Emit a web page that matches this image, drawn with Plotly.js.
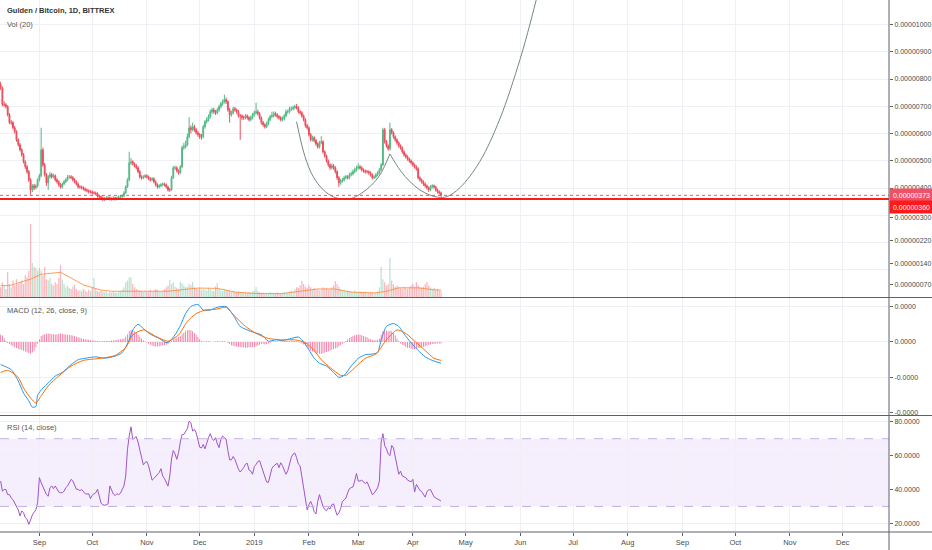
<!DOCTYPE html>
<html><head><meta charset="utf-8">
<script src="https://cdn.plot.ly/plotly-3.0.1.min.js"></script>
<style>html,body{margin:0;padding:0;background:#fff}#chart{width:932px;height:550px}</style>
</head><body><div id="chart"></div>
<script>
// ---- Data (prices in satoshi = 1e-8 BTC), daily candles from 2018-08-10 ----
const startDate = [2018, 7, 10];
const opens = [
780,768,706,706,699,669,640,640,621,607, 577,559,540,522,496,478,460,430,393,408,
401,408,430,445,540,485,449,419,441,449, 441,445,430,423,412,404,415,423,430,441,
441,438,430,423,415,404,404,401,397,393, 390,386,386,382,382,379,371,368,364,360,
360,364,364,360,360,364,360,364,368,368, 371,382,404,430,493,496,489,482,474,460,
441,438,441,445,441,434,430,434,423,412, 404,408,412,415,412,404,393,393,438,474,
474,463,456,478,548,551,559,588,621,614, 625,614,603,596,588,588,625,643,651,662,
680,687,680,676,687,699,709,717,724,717, 687,669,676,691,687,680,665,665,658,658,
665,658,651,658,669,676,680,673,658,640, 632,625,636,651,662,665,673,669,662,658,
651,654,665,680,680,691,691,695,699,695, 680,676,665,651,629,621,596,577,585,574,
562,551,566,570,533,518,500,485,474,482, 474,460,438,419,426,430,438,441,438,449,
452,460,467,474,478,474,467,463,460,460, 456,449,438,441,449,456,467,485,614,570,
555,544,614,603,588,577,566,555,548,533, 522,515,507,500,493,485,478,471,438,430,
423,415,408,401,393,404,408,404,393,386, 382];
const highs = [
790,772,718,712,704,675,650,646,628,612, 582,565,546,528,502,484,466,436,414,415,
414,436,452,621,548,492,455,448,458,456, 452,450,436,428,418,420,430,436,448,448,
447,444,436,428,420,410,409,406,402,398, 395,392,392,388,387,384,376,373,369,366,
370,370,369,366,370,368,369,373,374,377, 388,410,436,533,510,502,494,488,480,466,
447,447,451,450,446,440,440,439,428,417, 414,418,420,420,417,409,400,445,481,482,
480,468,484,556,566,574,600,660,630,640, 632,620,610,602,598,632,650,660,670,688,
695,694,686,694,706,716,725,743,732,722, 694,684,698,698,692,686,672,670,666,672,
670,664,665,676,684,713,688,678,663,646, 638,643,658,669,680,681,680,675,668,664,
662,672,688,688,698,699,702,706,708,700, 686,682,670,656,635,626,602,592,590,580,
568,573,590,575,538,523,505,490,490,488, 480,465,444,433,437,445,448,447,456,460,
468,475,482,490,484,480,472,468,466,465, 461,454,447,455,462,473,492,621,620,576,
560,640,620,608,593,582,571,560,553,538, 527,520,512,505,498,490,483,476,443,435,
428,420,413,406,411,414,413,408,398,391, 387];
const lows = [
760,700,698,692,663,634,632,615,600,570, 552,534,515,490,470,452,422,375,385,392,
395,402,424,440,478,442,408,393,435,434, 436,424,416,405,398,398,410,418,425,434,
432,424,417,409,398,397,395,391,387,384, 380,380,376,376,373,365,362,357,352,353,
355,357,354,354,355,354,355,359,362,363, 366,378,400,425,485,482,476,468,454,435,
431,432,436,435,428,424,425,417,406,398, 399,403,406,406,398,387,386,390,433,466,
457,449,451,473,540,545,553,582,600,608, 606,596,588,580,578,582,618,636,644,655,
672,672,668,670,680,692,702,710,708,680, 640,662,670,680,672,658,577,650,650,652,
651,644,645,652,662,670,666,651,633,625, 618,620,630,645,656,659,662,655,651,644,
645,648,659,672,674,683,685,688,688,673, 669,658,644,622,614,589,570,571,567,555,
544,545,560,526,511,493,478,467,468,467, 453,430,404,412,420,424,432,431,432,443,
446,454,460,468,467,460,456,453,453,449, 442,431,432,435,443,450,461,480,563,548,
537,538,596,581,570,559,548,541,526,515, 508,500,493,486,478,471,464,431,423,416,
408,401,394,386,388,399,398,387,380,376, 368];
const closes = [
768,706,706,699,669,640,640,621,607,577, 559,540,522,496,478,460,430,393,408,401,
408,430,445,540,485,449,419,441,449,441, 445,430,423,412,404,415,423,430,441,441,
438,430,423,415,404,404,401,397,393,390, 386,386,382,382,379,371,368,364,360,360,
364,364,360,360,364,360,364,368,368,371, 382,404,430,493,496,489,482,474,460,441,
438,441,445,441,434,430,434,423,412,404, 408,412,415,412,404,393,393,438,474,474,
463,456,478,548,551,559,588,621,614,625, 614,603,596,588,588,625,643,651,662,680,
687,680,676,687,699,709,717,724,717,687, 669,676,691,687,680,665,665,658,658,665,
658,651,658,669,676,680,673,658,640,632, 625,636,651,662,665,673,669,662,658,651,
654,665,680,680,691,691,695,699,695,680, 676,665,651,629,621,596,577,585,574,562,
551,566,570,533,518,500,485,474,482,474, 460,438,419,426,430,438,441,438,449,452,
460,467,474,478,474,467,463,460,460,456, 449,438,441,449,456,467,485,614,570,555,
544,614,603,588,577,566,555,548,533,522, 515,507,500,493,485,478,471,438,430,423,
415,408,401,393,404,408,404,393,386,382, 373];
// Volume, same 1e-8 units as its scale labels
const volumes = [
59,76,65,53,112,70,59,82,65,87, 70,76,82,70,101,93,116,279,143,129,
126,116,126,116,99,129,87,82,91,70, 65,76,70,91,136,84,70,59,65,57,
53,61,67,53,48,50,45,53,48,42, 50,45,59,91,53,45,42,48,43,41,
45,39,42,40,44,41,39,43,45,50, 59,76,82,94,94,70,59,53,50,48,
45,43,48,42,45,50,43,48,53,50, 45,42,48,53,59,65,84,70,76,61,
57,53,77,73,65,59,61,70,65,77, 59,53,50,57,48,53,50,48,57,53,
48,45,61,74,53,48,45,53,48,50, 45,42,48,43,41,45,42,39,43,41,
39,42,40,45,48,60,45,42,39,41, 36,40,39,42,38,40,36,41,39,36,
40,42,39,41,44,48,45,53,59,57, 65,81,70,61,57,66,59,53,57,50,
53,48,50,59,53,57,50,53,59,65, 81,70,61,53,48,50,45,48,43,45,
42,48,43,41,44,42,40,43,41,39, 42,40,38,41,45,59,129,87,76,65,
70,161,82,70,61,65,59,57,53,61, 57,53,59,65,70,61,77,68,59,57,
61,70,77,65,59,53,57,50,53,48, 45];
// Vol MA(20) read at sampled days (day index, value)
const volMaIdx  = [0,6,12,17,23,30,34,40,47,57,63,80,95,104,112,123,133,145,160,170,180,189,199,213,219,226,237,246,250];
const volMaVals = [64,66,78,87,104,108,111,91,67,49,45,45,45,51,56,55,42,37,37,45,53,53,42,39,45,57,57,50,49];
// MACD (satoshi) sampled
const macdIdx  = [0,6,10,13,16,18,20,21,24,27,31,35,40,44,48,54,59,65,69,73,75,78,81,85,90,94,96,99,102,105,108,112,115,119,123,128,132,136,142,148,152,156,160,165,169,171,175,178,181,185,189,192,195,199,203,207,211,214,216,219,223,226,230,234,237,241,245,250];
const macdVals = [-32,-39,-55,-72,-83,-92,-91,-75,-65,-58,-48,-43,-32,-25,-23,-21,-23,-20,-15,3,17,25,19,11,5,-1,1,10,23,40,50,53,45,45,49,50,38,22,15,10,1,3,2,5,7,3,-11,-23,-30,-34,-43,-50,-47,-34,-23,-18,-17,-15,3,22,26,22,8,-4,-12,-21,-26,-30];
const signalIdx  = [0,4,10,13,17,20,23,27,33,40,47,57,65,71,75,81,88,95,101,106,111,116,122,128,133,139,145,152,159,167,173,178,182,187,193,196,202,207,213,219,225,230,236,241,246,250];
const signalVals = [-43,-40,-50,-65,-79,-86,-76,-62,-48,-34,-26,-23,-19,-8,10,17,8,1,10,29,40,45,46,49,36,22,12,5,3,3,-1,-12,-25,-36,-47,-47,-34,-23,-17,3,17,12,-1,-12,-23,-26];
const histVals = [
10,9,5,1.5,-1.5,
-3,-4.5,-6,-7.5,-8.5,-9.5,-10.5,-11.5,-12.5,-13.5,-14.5,-15.5,-16.5,-15,-12.5,-7.5,
-2.5,4,8.5,
10,11,11.5,12,11.5,11,11,10.5,11,11.5,12,11.5,11,10.5,10,10,9.5,9,8.5,7.5,
6.5,6,5,4.5,4,3.5,3,2.5,2,2,1.5,1.5,1,1,
1,1,1.5,1.5,1.5,2,2,2.5,3,3.5,4,4.5,5,
7.5,11,15,17,16.5,15,13,10,7.5,5,2.5,0.5,-1,-2.5,-4,-5,-6,-6.5,-6.5,-6,-5.5,-5,-4.5,-4,-3,-1,1.5,4,5,6,7,8,11,13,15,16.5,17,16.5,15,12.5,10,7,4,1.5,0.5,
0.5,1,1,0.5,0,-0.5,0.5,1,1,0.5,1,1,0,
-1.5,-3,-4.5,-5.5,-6,-6.5,-7,-7,-7.5,-7.5,-8,-8,-7.5,-7.5,-7,-7,-6,-5,-4,-3,-2.5,-3.5,-3,-2,-1,
0.5,0.5,1,0.5,0,0.5,1,1.5,1.5,1,1.5,2,2,1.5,1,0,-1,-2,-3.5,
-5,-7.5,-10,-12,-13.5,-14.5,-15.5,-16,-16.5,-16.5,-16,-15,-14,-13,-12,-11,-10,-9,-8,-6.5,-4.5,-2.5,-1,
1.5,3.5,5.5,7,8.5,9.5,10,10.5,10,9.5,8.5,7.5,6.5,5,4,3,2.5,2.5,3,5,
10,15,16.5,16,15,16,15,12.5,9,5,1.5,
-2,-4,-5.5,-7,-8,-9,-9.5,-10,-10,-9.5,-9,-8.5,-8,-7,-6,-5,-4,-3.5,-3,-2.5,-2.5,-2,-2,-2];
const rsiVals = [
45,39,40,40,37,37,35,34,32,30, 28,24.4,27.3,26.3,23.4,22.4,19.4,22,25,26.5,
28,32.2,47,44,41.5,39.5,37,36,41.1,42.1, 40.5,42.1,40.5,38.5,38.1,38.1,39,41.1,42.1,44,
46,45,42.1,40.1,40.1,39.3,40,39,37.5,37.3, 37.5,34.6,36.6,37.5,38.1,40.1,35.5,32,31,30.7,
31,31.5,42.1,40.1,37.3,36.4,37.5,37,37.8,40, 42.1,48,63.7,71.6,77,69.6,70.6,71.2,68,63,
58,54.5,56,56.5,53.9,50,45.5,46.5,47.5,48.5, 50,52.3,48,46.4,44.3,42,48,58,63,61,
57.8,61.7,68,72.5,72.5,74,76,80.4,79.4,74.5, 75.5,73.5,69,65,64.5,66.6,64,67.6,70.6,73,
70,69,70.6,67,64.7,69.6,71.6,70.6,69.8,63, 57.5,57.5,59.5,57.8,54.8,52,50.3,51.5,53,55,
55.5,51.5,50.9,49,53.5,54.8,56.5,57,54,50.5, 47,44.4,44.2,48,52.5,53.9,55,55.5,52.9,55.8,
54,51.5,49,51,55,59,60.9,61.6,58.8,55, 54,47,41.5,35,28,31,33,30.5,27,25.6,
33,37,33.5,30,28.2,27.5,29.2,28.5,31,31.5, 28,24.8,26.2,28.7,32.8,34,35,38,40.5,41.1,
41.5,45,49.5,45,45,45.5,44.5,43.5,44.5,42, 40.2,37,37.8,39.5,41,45,68,73,66,64,
61,60,66,64.5,59,53.5,49,50.8,48,47.5, 47,45.5,44.8,44.5,46,38.5,43,41,39.5,38.8,
37.5,35.5,38.8,39.7,40,37.5,35.7,35,34.5,34, 33.2];
// Drawn levels and curves (satoshi)
const supportLevel = 360;
const lastPrice = 373;
const curve1Dates  = ['2019-01-25','2019-01-29 19:00','2019-02-03 12:00','2019-02-09 05:00','2019-02-14 19:00','2019-02-19 14:00','2019-02-25 07:00','2019-03-02 22:00','2019-03-08 14:00','2019-03-13 07:00','2019-03-19'];
const curve1Prices = [643,515,441,393,368,360,362,381,411,448,525];
const curve2Dates  = ['2019-03-19','2019-03-24 17:00','2019-03-30 10:00','2019-04-05','2019-04-10 17:00','2019-04-15 10:00','2019-04-20 05:00','2019-04-27 17:00','2019-05-09 02:00','2019-05-20 10:00','2019-05-31 19:00','2019-06-06 12:00','2019-06-12'];
const curve2Prices = [525,466,423,393,374,366,368,401,498,654,871,1002,1141];
// Axis ticks
const monthTicks  = ['2018-09-01','2018-10-01','2018-11-01','2018-12-01','2019-01-01','2019-02-01','2019-03-01','2019-04-01','2019-05-01','2019-06-01','2019-07-01','2019-08-01','2019-09-01','2019-10-01','2019-11-01','2019-12-01'];
const monthLabels = ['Sep','Oct','Nov','Dec','2019','Feb','Mar','Apr','May','Jun','Jul','Aug','Sep','Oct','Nov','Dec'];
const priceTicks = [400,500,600,700,800,900,1000];
const priceMinorTicks = [100,200,300];
const volTicks = [70,140,220,300];
const macdTicks = [50,0,-50,-100];
const rsiTicks = [20,40,60,80];

// ---- Build ----
const dates = closes.map((_, i) => new Date(Date.UTC(startDate[0], startDate[1], startDate[2] + i)).toISOString().slice(0, 10));
const pick = idx => idx.map(i => dates[i]);
const UP = '#53b987', DN = '#eb4d5c';
const volColors = closes.map((c, i) => c >= opens[i] ? 'rgba(83,185,135,0.4)' : 'rgba(235,77,92,0.4)');
const DAY = 86400000;
const FONT = 'Liberation Sans, Arial, sans-serif';
const GRID = '#eef0f4';
const AX = '#5d606b';
const CURVE = '#74897f';
const btc8 = v => (v * 1e-8).toFixed(8);

const traces = [
  {type:'bar', x:dates, y:volumes, xaxis:'x', yaxis:'y', width:0.7*DAY, marker:{color:volColors, line:{width:0}}, hoverinfo:'skip'},
  {type:'scatter', mode:'lines', x:pick(volMaIdx), y:volMaVals, xaxis:'x', yaxis:'y', line:{color:'rgba(255,140,60,0.85)', width:1}, hoverinfo:'skip'},
  {type:'candlestick', x:dates, open:opens, high:highs, low:lows, close:closes, xaxis:'x', yaxis:'y2', whiskerwidth:0,
   increasing:{line:{color:UP, width:1}, fillcolor:UP}, decreasing:{line:{color:DN, width:1}, fillcolor:DN}, hoverinfo:'skip'},
  {type:'scatter', mode:'lines', x:curve1Dates, y:curve1Prices, xaxis:'x', yaxis:'y2', line:{color:CURVE, width:1, shape:'spline'}, hoverinfo:'skip'},
  {type:'scatter', mode:'lines', x:curve2Dates, y:curve2Prices, xaxis:'x', yaxis:'y2', line:{color:CURVE, width:1, shape:'spline'}, hoverinfo:'skip'},
  {type:'bar', x:dates, y:histVals, xaxis:'x', yaxis:'y3', width:0.45*DAY, marker:{color:'rgba(240,80,135,0.85)', line:{width:0}}, hoverinfo:'skip'},
  {type:'scatter', mode:'lines', x:pick(macdIdx), y:macdVals, xaxis:'x', yaxis:'y3', line:{color:'#2196f3', width:1, shape:'spline', smoothing:0.6}, hoverinfo:'skip'},
  {type:'scatter', mode:'lines', x:pick(signalIdx), y:signalVals, xaxis:'x', yaxis:'y3', line:{color:'#ff6d00', width:1, shape:'spline', smoothing:0.6}, hoverinfo:'skip'},
  {type:'scatter', mode:'lines', x:dates, y:rsiVals, xaxis:'x', yaxis:'y4', line:{color:'#a054c8', width:1}, hoverinfo:'skip'}
];

const yCommon = {side:'right', anchor:'x', zeroline:false, showline:false, ticks:'outside', ticklen:3, tickcolor:AX,
  tickfont:{family:FONT, size:7, color:'#4a4a4a'}, fixedrange:true, gridcolor:GRID, gridwidth:1};

const H = 532; // plot area height in px
const py = px => 1 - px / H;

const layout = {
  width:932, height:550, margin:{l:0, r:43, t:0, b:18, pad:0},
  paper_bgcolor:'#fff', plot_bgcolor:'#fff', showlegend:false, hovermode:false, dragmode:false, barmode:'overlay',
  font:{family:FONT, size:7, color:'#4a4a4a'},
  xaxis:{type:'date', range:['2018-08-09 15:20','2019-12-27 07:00'], anchor:'y4', tickmode:'array', tickvals:monthTicks, ticktext:monthLabels,
    ticks:'outside', ticklen:3, tickcolor:AX, showgrid:true, gridcolor:GRID, zeroline:false, showline:false,
    tickfont:{family:FONT, size:7.5, color:'#4a4a4a'}, rangeslider:{visible:false}, fixedrange:true},
  yaxis: Object.assign({}, yCommon, {domain:[py(297), 1], range:[25, 1058], tickmode:'array', tickvals:volTicks, ticktext:volTicks.map(btc8), showgrid:false}),
  yaxis2: Object.assign({}, yCommon, {overlaying:'y', range:[0, 1090], tickmode:'array', tickvals:priceTicks, ticktext:priceTicks.map(btc8), showgrid:true,
    minor:{tickmode:'array', tickvals:priceMinorTicks, showgrid:true, gridcolor:GRID, ticks:''}}),
  yaxis3: Object.assign({}, yCommon, {domain:[py(415), py(298)], range:[-103, 62], tickmode:'array', tickvals:macdTicks, ticktext:macdTicks.map(v => (v*1e-8).toFixed(4)), showgrid:true}),
  yaxis4: Object.assign({}, yCommon, {domain:[0, py(416)], range:[14.9, 83.4], tickmode:'array', tickvals:rsiTicks, ticktext:rsiTicks.map(v => v.toFixed(4)), showgrid:true}),
  shapes:[
    {type:'rect', xref:'paper', x0:0, x1:1, yref:'y4', y0:30, y1:70, fillcolor:'rgba(160,110,235,0.11)', line:{width:0}, layer:'below'},
    {type:'line', xref:'paper', x0:0, x1:1, yref:'y4', y0:70, y1:70, line:{color:'#c4b0e4', width:1, dash:'dash'}},
    {type:'line', xref:'paper', x0:0, x1:1, yref:'y4', y0:30, y1:30, line:{color:'#c4b0e4', width:1, dash:'dash'}},
    {type:'line', xref:'paper', x0:0, x1:1, yref:'y2', y0:lastPrice, y1:lastPrice, line:{color:'#ef5468', width:1, dash:'dot'}},
    {type:'line', xref:'paper', x0:0, x1:1, yref:'y2', y0:supportLevel, y1:supportLevel, line:{color:'#ff1a1a', width:2}},
    {type:'line', xref:'paper', x0:0, x1:1.05, yref:'paper', y0:py(297.5), y1:py(297.5), line:{color:AX, width:1}},
    {type:'line', xref:'paper', x0:0, x1:1.05, yref:'paper', y0:py(415.5), y1:py(415.5), line:{color:AX, width:1}},
    {type:'line', xref:'paper', x0:0, x1:1.05, yref:'paper', y0:0, y1:0, line:{color:AX, width:1}},
    {type:'line', xref:'paper', x0:1, x1:1, yref:'paper', y0:-0.04, y1:1, line:{color:AX, width:1}}
  ],
  annotations:[
    {xref:'paper', yref:'paper', x:0.0056, y:py(11), xanchor:'left', yanchor:'middle', showarrow:false, text:'Gulden / Bitcoin, 1D, BITTREX', font:{family:FONT, size:7.5, color:'#333', weight:700}},
    {xref:'paper', yref:'paper', x:0.0056, y:py(24), xanchor:'left', yanchor:'middle', showarrow:false, text:'Vol (20)', font:{family:FONT, size:7.5, color:'#555'}},
    {xref:'paper', yref:'paper', x:0.0056, y:py(310), xanchor:'left', yanchor:'middle', showarrow:false, text:'MACD (12, 26, close, 9)', font:{family:FONT, size:7.5, color:'#555'}},
    {xref:'paper', yref:'paper', x:0.0056, y:py(427), xanchor:'left', yanchor:'middle', showarrow:false, text:'RSI (14, close)', font:{family:FONT, size:7.5, color:'#555'}},
    {xref:'paper', yref:'y2', x:1, y:lastPrice, xanchor:'left', yanchor:'middle', showarrow:false, text:btc8(lastPrice), bgcolor:'#ec5369', width:41, height:10, borderpad:1, font:{family:FONT, size:7, color:'#fff'}},
    {xref:'paper', yref:'y2', x:1, y:supportLevel, yshift:-8, xanchor:'left', yanchor:'middle', showarrow:false, text:btc8(supportLevel), bgcolor:'#ff1a1a', width:41, height:10, borderpad:1, font:{family:FONT, size:7, color:'#fff'}}
  ]
};

Plotly.newPlot('chart', traces, layout, {staticPlot:true, displayModeBar:false});
</script>
</body></html>
